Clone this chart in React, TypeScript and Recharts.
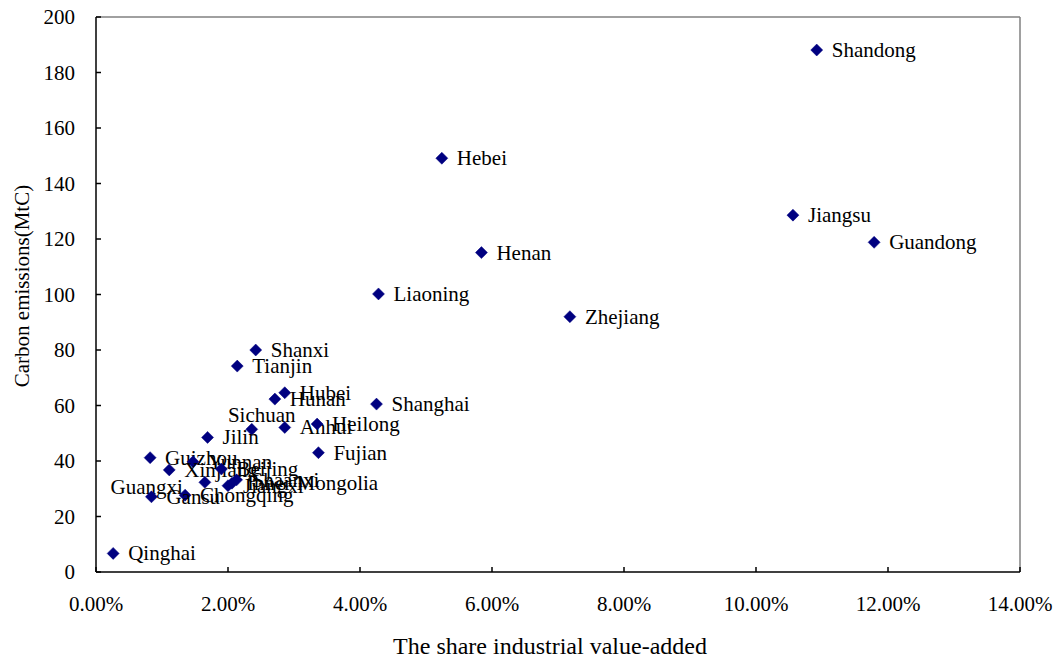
import React from 'react';
import { ScatterChart, Scatter, XAxis, YAxis, ReferenceLine } from 'recharts';

const provinces = [
  'Shandong', 'Hebei', 'Jiangsu', 'Guandong', 'Henan', 'Liaoning', 'Zhejiang',
  'Shanxi', 'Tianjin', 'Hubei', 'Hunan', 'Shanghai', 'Sichuan', 'Anhui', 'Heilong',
  'Jilin', 'Fujian', 'Guizhou', 'Yunnan', 'Xinjiang', 'Beijing', 'Shaanxi',
  'Inner Mongolia', 'Jiangxi', 'Guangxi', 'Chongqing', 'Gansu', 'Qinghai',
];
const shareValues = [
  10.92, 5.24, 10.56, 11.79, 5.84, 4.28, 7.18,
  2.42, 2.14, 2.86, 2.71, 4.25, 2.36, 2.86, 3.35,
  1.69, 3.37, 0.82, 1.47, 1.11, 1.90, 2.13,
  2.06, 2.00, 1.65, 1.35, 0.84, 0.26,
];
const emissionValues = [
  188.1, 149.1, 128.6, 118.8, 115.1, 100.2, 92.0,
  80.0, 74.2, 64.6, 62.3, 60.5, 51.4, 52.1, 53.3,
  48.5, 43.0, 41.2, 39.7, 36.8, 37.1, 33.2,
  32.0, 31.1, 32.3, 27.7, 27.1, 6.7,
];
const xTicks = [0, 2, 4, 6, 8, 10, 12, 14];
const yTicks = [0, 20, 40, 60, 80, 100, 120, 140, 160, 180, 200];

const LEFT_LABELS = ['Guangxi'];
const ABOVE_LABELS = ['Sichuan'];

const FONT = '"Liberation Serif", "Times New Roman", Times, serif';
const MARKER = '#000080';

const data = provinces.map((name, i) => ({ name, x: shareValues[i], y: emissionValues[i] }));

const DiamondWithLabel = (props: any) => {
  const { cx, cy, payload } = props;
  if (cx == null || cy == null) return null;
  const r = 6;
  const name: string = payload.name;
  let tx = cx + 15;
  let ty = cy;
  let anchor: 'start' | 'end' | 'middle' = 'start';
  if (LEFT_LABELS.includes(name)) {
    tx = cx - 22;
    ty = cy + 5;
    anchor = 'end';
  } else if (ABOVE_LABELS.includes(name)) {
    tx = cx + 10;
    ty = cy - 14;
    anchor = 'middle';
  }
  return (
    <g>
      <polygon
        points={`${cx},${cy - r} ${cx + r},${cy} ${cx},${cy + r} ${cx - r},${cy}`}
        fill={MARKER}
        stroke={MARKER}
        strokeWidth={0.5}
      />
      <text
        x={tx}
        y={ty}
        textAnchor={anchor}
        dominantBaseline="central"
        fontFamily={FONT}
        fontSize={21}
        fill="#000"
      >
        {name}
      </text>
    </g>
  );
};

export default function App() {
  return (
    <div style={{ position: 'absolute', left: 0, top: 0, width: 1054, height: 666, background: '#fff' }}>
      <ScatterChart width={1054} height={666} margin={{ top: 17, right: 34, bottom: 0, left: 0 }}>
        <XAxis
          type="number"
          dataKey="x"
          domain={[0, 14]}
          ticks={xTicks}
          tickFormatter={(v: number) => v.toFixed(2) + '%'}
          height={94}
          tickSize={-5}
          tickMargin={29}
          axisLine={{ stroke: '#000', strokeWidth: 1.5 }}
          tickLine={{ stroke: '#000', strokeWidth: 1.5 }}
          tick={{ fill: '#000', fontSize: 21, fontFamily: FONT }}
          interval={0}
          allowDataOverflow
          label={{
            content: () => (
              <text x={550} y={654} textAnchor="middle" fontFamily={FONT} fontSize={24} fill="#000">
                The share industrial value-added
              </text>
            ),
          }}
        />
        <YAxis
          type="number"
          dataKey="y"
          domain={[0, 200]}
          ticks={yTicks}
          width={96}
          tickSize={-5}
          tickMargin={26}
          axisLine={{ stroke: '#000', strokeWidth: 1.5 }}
          tickLine={{ stroke: '#000', strokeWidth: 1.5 }}
          tick={{ fill: '#000', fontSize: 21, fontFamily: FONT }}
          interval={0}
          allowDataOverflow
          label={{
            content: () => (
              <text
                x={22}
                y={286}
                transform="rotate(-90 22 286)"
                textAnchor="middle"
                dominantBaseline="central"
                fontFamily={FONT}
                fontSize={21}
                fill="#000"
              >
                Carbon emissions(MtC)
              </text>
            ),
          }}
        />
        <ReferenceLine y={200} stroke="#808080" strokeWidth={1.5} ifOverflow="visible" />
        <ReferenceLine x={14} stroke="#808080" strokeWidth={1.5} ifOverflow="visible" />
        <Scatter data={data} shape={<DiamondWithLabel />} isAnimationActive={false} />
      </ScatterChart>
    </div>
  );
}
